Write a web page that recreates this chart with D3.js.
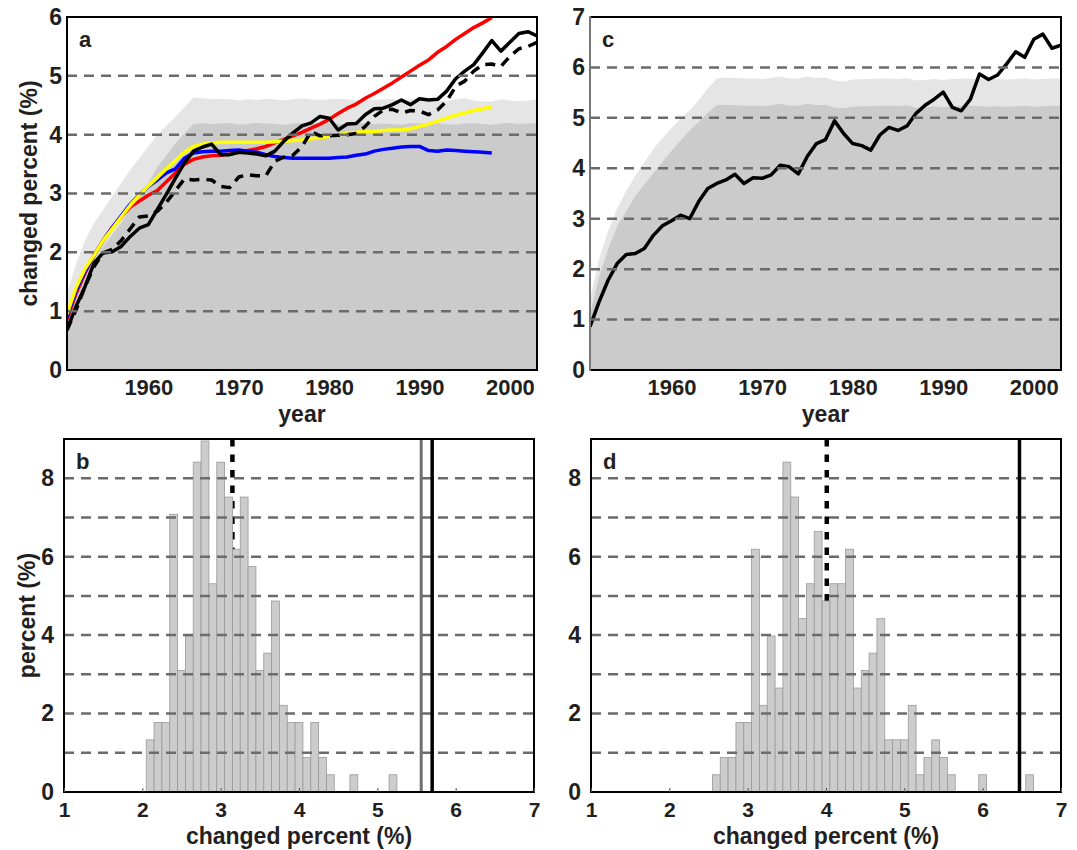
<!DOCTYPE html>
<html>
<head>
<meta charset="utf-8">
<script src="https://cdn.jsdelivr.net/npm/d3@7"></script>
<style>
    body { margin: 0; background: #fff; }
    svg text { font-family: 'Liberation Sans', Arial, sans-serif; font-weight: bold; fill: #231f20; }
</style>
</head>
<body>
<svg id="chart" width="1077" height="850"></svg>
<script>
'use strict'

// years shared by panels a and c
const years = d3.range(1951, 2004)

// panel a: shaded envelopes and series
const bandLightA = [1.3, 1.8, 2.2, 2.5, 2.72, 2.95, 3.18, 3.4, 3.6, 3.8, 4.0, 4.15, 4.3, 4.47, 4.63,
    4.62, 4.6, 4.61, 4.6, 4.58, 4.6, 4.59, 4.61, 4.6, 4.58, 4.6, 4.62, 4.6, 4.59, 4.6, 4.61, 4.6, 4.58, 4.6, 4.59,
    4.6, 4.6, 4.58, 4.6, 4.62, 4.6, 4.58, 4.57, 4.6, 4.62, 4.58, 4.57, 4.56, 4.6, 4.58, 4.57, 4.58, 4.6]
const bandDarkA = [0.9, 1.3, 1.6, 1.85, 2.1, 2.3, 2.5, 2.72, 2.95, 3.18, 3.45, 3.65, 3.85, 4.02, 4.18,
    4.2, 4.18, 4.19, 4.2, 4.17, 4.18, 4.2, 4.19, 4.18, 4.17, 4.19, 4.2, 4.18, 4.19, 4.2, 4.18, 4.17, 4.19, 4.2, 4.18,
    4.19, 4.18, 4.17, 4.2, 4.19, 4.18, 4.2, 4.18, 4.17, 4.19, 4.2, 4.18, 4.17, 4.19, 4.2, 4.18, 4.19, 4.2]
const redA = [0.85, 1.3, 1.65, 1.95, 2.2, 2.42, 2.6, 2.77, 2.87, 2.97, 3.05, 3.2, 3.35, 3.5, 3.58, 3.62,
    3.64, 3.65, 3.67, 3.7, 3.73, 3.76, 3.8, 3.86, 3.92, 3.98, 4.04, 4.11, 4.18, 4.26, 4.36, 4.45, 4.52, 4.62,
    4.7, 4.79, 4.88, 4.98, 5.08, 5.18, 5.27, 5.4, 5.5, 5.62, 5.72, 5.82, 5.9, 5.99]
const blueA = [0.9, 1.35, 1.68, 1.95, 2.2, 2.42, 2.62, 2.82, 2.98, 3.12, 3.23, 3.35, 3.42, 3.6, 3.69, 3.71,
    3.72, 3.72, 3.73, 3.74, 3.72, 3.7, 3.66, 3.63, 3.61, 3.6, 3.6, 3.6, 3.6, 3.6, 3.61, 3.62, 3.65, 3.67,
    3.72, 3.75, 3.77, 3.79, 3.8, 3.8, 3.73, 3.72, 3.74, 3.73, 3.72, 3.71, 3.7, 3.69]
const yellowA = [0.95, 1.4, 1.72, 1.95, 2.2, 2.4, 2.6, 2.8, 2.97, 3.13, 3.27, 3.42, 3.56, 3.7, 3.8, 3.84,
    3.86, 3.87, 3.87, 3.87, 3.87, 3.87, 3.87, 3.88, 3.89, 3.9, 3.91, 3.93, 3.95, 3.97, 4.0, 4.02, 4.04, 4.05,
    4.06, 4.07, 4.08, 4.08, 4.1, 4.14, 4.18, 4.23, 4.28, 4.33, 4.37, 4.41, 4.44, 4.47]
const obsDashedA = [0.68, 1.02, 1.42, 1.76, 1.99, 2.05, 2.2, 2.4, 2.6, 2.62, 2.7, 2.85, 3.05, 3.25, 3.23,
    3.24, 3.23, 3.12, 3.1, 3.28, 3.32, 3.3, 3.3, 3.55, 3.62, 3.65, 3.8, 4.05, 3.98, 3.98, 3.99, 4.0, 4.02,
    4.14, 4.31, 4.42, 4.43, 4.37, 4.41, 4.4, 4.34, 4.42, 4.57, 4.82, 4.91, 5.08, 5.19, 5.2, 5.16, 5.33,
    5.46, 5.5, 5.57]
const obsSolidA = [0.68, 1.08, 1.42, 1.82, 1.99, 2.01, 2.1, 2.27, 2.41, 2.47, 2.73, 2.99, 3.26, 3.52, 3.72,
    3.79, 3.84, 3.66, 3.66, 3.7, 3.69, 3.67, 3.64, 3.72, 3.89, 4.03, 4.15, 4.2, 4.31, 4.28, 4.08, 4.18, 4.19,
    4.34, 4.44, 4.45, 4.51, 4.59, 4.51, 4.61, 4.59, 4.6, 4.74, 4.95, 5.08, 5.19, 5.39, 5.6, 5.42, 5.57,
    5.72, 5.75, 5.68]

// panel c
const bandLightC = [1.4, 2.2, 2.75, 3.2, 3.55, 3.85, 4.12, 4.38, 4.6, 4.8, 4.98, 5.15, 5.35, 5.58, 5.78,
    5.8, 5.79, 5.78, 5.78, 5.77, 5.79, 5.82, 5.78, 5.78, 5.82, 5.79, 5.8, 5.74, 5.72, 5.76, 5.77, 5.77, 5.78,
    5.78, 5.77, 5.79, 5.74, 5.75, 5.77, 5.75, 5.77, 5.78, 5.78, 5.77, 5.76, 5.77, 5.76, 5.77, 5.78, 5.76,
    5.77, 5.78, 5.78]
const bandDarkC = [1.1, 1.85, 2.4, 2.85, 3.15, 3.45, 3.68, 3.9, 4.12, 4.35, 4.55, 4.75, 4.92, 5.1, 5.25,
    5.26, 5.25, 5.24, 5.24, 5.23, 5.25, 5.28, 5.24, 5.24, 5.28, 5.25, 5.26, 5.2, 5.19, 5.22, 5.23, 5.23, 5.24,
    5.24, 5.23, 5.25, 5.2, 5.21, 5.23, 5.21, 5.23, 5.24, 5.24, 5.23, 5.22, 5.23, 5.22, 5.23, 5.24, 5.22,
    5.23, 5.24, 5.24]
const obsC = [0.86, 1.35, 1.78, 2.11, 2.29, 2.31, 2.41, 2.67, 2.86, 2.96, 3.07, 3.0, 3.34, 3.6, 3.7, 3.77,
    3.88, 3.7, 3.81, 3.8, 3.87, 4.06, 4.03, 3.89, 4.24, 4.49, 4.57, 4.94, 4.69, 4.49, 4.45, 4.36, 4.66, 4.81,
    4.75, 4.84, 5.09, 5.25, 5.37, 5.51, 5.21, 5.14, 5.37, 5.87, 5.76, 5.85, 6.07, 6.31, 6.2, 6.56, 6.66,
    6.38, 6.44]

// panel b histogram (bin centres, percent of runs)
const binsB = [2.1, 2.2, 2.3, 2.4, 2.5, 2.6, 2.7, 2.8, 2.9, 3.0, 3.1, 3.2, 3.3, 3.4, 3.5, 3.6, 3.7, 3.8,
    3.9, 4.0, 4.1, 4.2, 4.3, 4.4, 4.7, 5.2]
const histB = [1.33, 1.77, 1.77, 7.08, 3.1, 3.98, 8.41, 8.95, 5.31, 8.41, 7.52, 6.19, 7.52, 5.75, 3.1, 3.54,
    4.87, 2.21, 1.77, 1.77, 0.88, 1.77, 0.88, 0.44, 0.44, 0.44]
const markB = { dashed: 3.15, gray: 5.56, solid: 5.7 }

// panel d histogram
const binsD = [2.6, 2.7, 2.8, 2.9, 3.0, 3.1, 3.2, 3.3, 3.4, 3.5, 3.6, 3.7, 3.8, 3.9, 4.0, 4.1, 4.2, 4.3,
    4.4, 4.5, 4.6, 4.7, 4.8, 4.9, 5.0, 5.1, 5.2, 5.3, 5.4, 5.5, 5.6, 6.0, 6.6]
const histD = [0.44, 0.88, 0.88, 1.77, 1.77, 6.19, 2.21, 3.98, 2.65, 8.41, 7.52, 4.42, 5.31, 6.64, 4.87, 5.31,
    5.31, 6.19, 2.65, 3.1, 3.54, 4.42, 1.33, 1.33, 1.33, 2.21, 0.44, 0.88, 1.33, 0.88, 0.44, 0.44, 0.44]
const markD = { dashed: 4.01, solid: 6.47 }

const fontSize = 23
const svg = d3.select('#chart')

function frame(id, box) {
    let g = svg.append('g').attr('class', id)
    g.append('clipPath').attr('id', `clip-${id}`).append('rect')
        .attr('x', box.left).attr('y', box.top)
        .attr('width', box.right - box.left).attr('height', box.bottom - box.top)
    return g
}

function grid(g, x, y, values) {
    g.append('g').selectAll('line').data(values).enter().append('line')
        .attr('x1', x.range()[0]).attr('x2', x.range()[1])
        .attr('y1', d => y(d)).attr('y2', d => y(d))
        .attr('stroke', '#6b6b6b').attr('stroke-width', 2.5).attr('stroke-dasharray', '10,7')
}

function border(g, box, leftColor) {
    let sides = [
        [box.left, box.top, box.right, box.top, '#000'],
        [box.right, box.top, box.right, box.bottom, '#000'],
        [box.left, box.bottom, box.right, box.bottom, '#000'],
        [box.left, box.top, box.left, box.bottom, leftColor || '#000']
    ]
    g.append('g').selectAll('line').data(sides).enter().append('line')
        .attr('x1', d => d[0]).attr('y1', d => d[1]).attr('x2', d => d[2]).attr('y2', d => d[3])
        .attr('stroke', d => d[4]).attr('stroke-width', 2).attr('stroke-linecap', 'square')
}

function letter(g, box, txt) {
    g.append('text').attr('x', box.left + 12).attr('y', box.top + 30).attr('font-size', 22).text(txt)
}

function seriesPanel(id, box, yMax, light, dark, series, labelY, pad) {
    let g = frame(id, box)
    let x = d3.scaleLinear().domain([1951, 2003]).range([box.left, box.right])
    let y = d3.scaleLinear().domain([0, yMax]).range([box.bottom, box.top])
    let clip = g.append('g').attr('clip-path', `url(#clip-${id})`)

    let area = d3.area().x((d, i) => x(years[i])).y0(y(0)).y1(d => y(d))
    clip.append('path').attr('d', area(light)).attr('fill', '#e5e5e5')
    clip.append('path').attr('d', area(dark)).attr('fill', '#cbcbcb')

    grid(g, x, y, d3.range(1, yMax))

    let line = d3.line().x((d, i) => x(years[i])).y(d => y(d))
    series.forEach(s => {
        clip.append('path').attr('d', line(s.values)).attr('fill', 'none')
            .attr('stroke', s.color).attr('stroke-width', s.width)
            .attr('stroke-dasharray', s.dash || null).attr('stroke-linejoin', 'round')
    })

    border(g, box, id === 'c' ? '#777' : '#000')
    letter(g, box, id)

    g.append('g').attr('transform', `translate(${box.left},0)`)
        .call(d3.axisLeft(y).ticks(yMax).tickFormat(d3.format('d')).tickSize(0).tickPadding(pad))
        .attr('font-size', fontSize)
        .call(a => a.select('.domain').remove())

    g.append('g').attr('transform', `translate(0,${box.bottom})`)
        .call(d3.axisBottom(x).tickValues([1960, 1970, 1980, 1990, 2000]).tickFormat(d3.format('d')).tickSize(0).tickPadding(9))
        .attr('font-size', 22)
        .call(a => a.select('.domain').remove())

    g.append('text').attr('x', (box.left + box.right) / 2).attr('y', 422)
        .attr('text-anchor', 'middle').attr('font-size', fontSize).text('year')

    if (labelY) {
        g.append('text').attr('transform', `translate(37,${(box.top + box.bottom) / 2}) rotate(-90)`)
            .attr('text-anchor', 'middle').attr('font-size', fontSize).text(labelY)
    }
}

function histPanel(id, box, bins, values, marks, labelY) {
    let g = frame(id, box)
    let x = d3.scaleLinear().domain([1, 7]).range([box.left, box.right])
    let y = d3.scaleLinear().domain([0, 9]).range([box.bottom, box.top])
    let clip = g.append('g').attr('clip-path', `url(#clip-${id})`)

    grid(g, x, y, d3.range(1, 9))

    clip.append('line').attr('x1', x(marks.dashed)).attr('x2', x(marks.dashed))
        .attr('y1', box.top).attr('y2', box.bottom)
        .attr('stroke', '#000').attr('stroke-width', 4.5).attr('stroke-dasharray', '7.5,8')

    clip.append('g').selectAll('rect').data(bins).enter().append('rect')
        .attr('x', d => x(d - 0.05)).attr('width', d => x(d + 0.05) - x(d - 0.05))
        .attr('y', (d, i) => y(values[i])).attr('height', (d, i) => y(0) - y(values[i]))
        .attr('fill', '#cccccc').attr('stroke', '#9a9a9a').attr('stroke-width', 0.8)

    if (marks.gray) {
        g.append('line').attr('x1', x(marks.gray)).attr('x2', x(marks.gray))
            .attr('y1', box.top).attr('y2', box.bottom).attr('stroke', '#707070').attr('stroke-width', 3)
    }
    g.append('line').attr('x1', x(marks.solid)).attr('x2', x(marks.solid))
        .attr('y1', box.top).attr('y2', box.bottom).attr('stroke', '#000').attr('stroke-width', 3.5)

    border(g, box)
    letter(g, box, id)

    g.append('g').attr('transform', `translate(${box.left},0)`)
        .call(d3.axisLeft(y).tickValues([0, 2, 4, 6, 8]).tickSize(0).tickPadding(10))
        .attr('font-size', fontSize)
        .call(a => a.select('.domain').remove())

    g.append('g').attr('transform', `translate(0,${box.bottom})`)
        .call(d3.axisBottom(x).tickValues([1, 2, 3, 4, 5, 6, 7]).tickFormat(d3.format('d'))
            .tickSizeInner(-4).tickSizeOuter(0).tickPadding(10))
        .attr('font-size', 21)
        .call(a => a.select('.domain').remove())
        .call(a => a.selectAll('.tick line').attr('stroke', '#555'))

    g.append('text').attr('x', (box.left + box.right) / 2).attr('y', 844)
        .attr('text-anchor', 'middle').attr('font-size', fontSize).text('changed percent (%)')

    if (labelY) {
        g.append('text').attr('transform', `translate(35,${(box.top + box.bottom) / 2}) rotate(-90)`)
            .attr('text-anchor', 'middle').attr('font-size', fontSize).text(labelY)
    }
}

seriesPanel('a', { left: 67, right: 537, top: 17, bottom: 370 }, 6, bandLightA, bandDarkA, [
    { values: redA, color: '#ff0000', width: 3.5 },
    { values: blueA, color: '#0000ff', width: 3.5 },
    { values: yellowA, color: '#ffff00', width: 3.5 },
    { values: obsDashedA, color: '#000', width: 3.5, dash: '10,7' },
    { values: obsSolidA, color: '#000', width: 3.5 }
], 'changed percent (%)', 5)

seriesPanel('c', { left: 590, right: 1061, top: 17, bottom: 370 }, 7, bandLightC, bandDarkC, [
    { values: obsC, color: '#000', width: 3.5 }
], null, 5)

histPanel('b', { left: 64, right: 534, top: 439, bottom: 792 }, binsB, histB, markB, 'percent (%)')
histPanel('d', { left: 591, right: 1061, top: 439, bottom: 792 }, binsD, histD, markD, null)
</script>
</body>
</html>
